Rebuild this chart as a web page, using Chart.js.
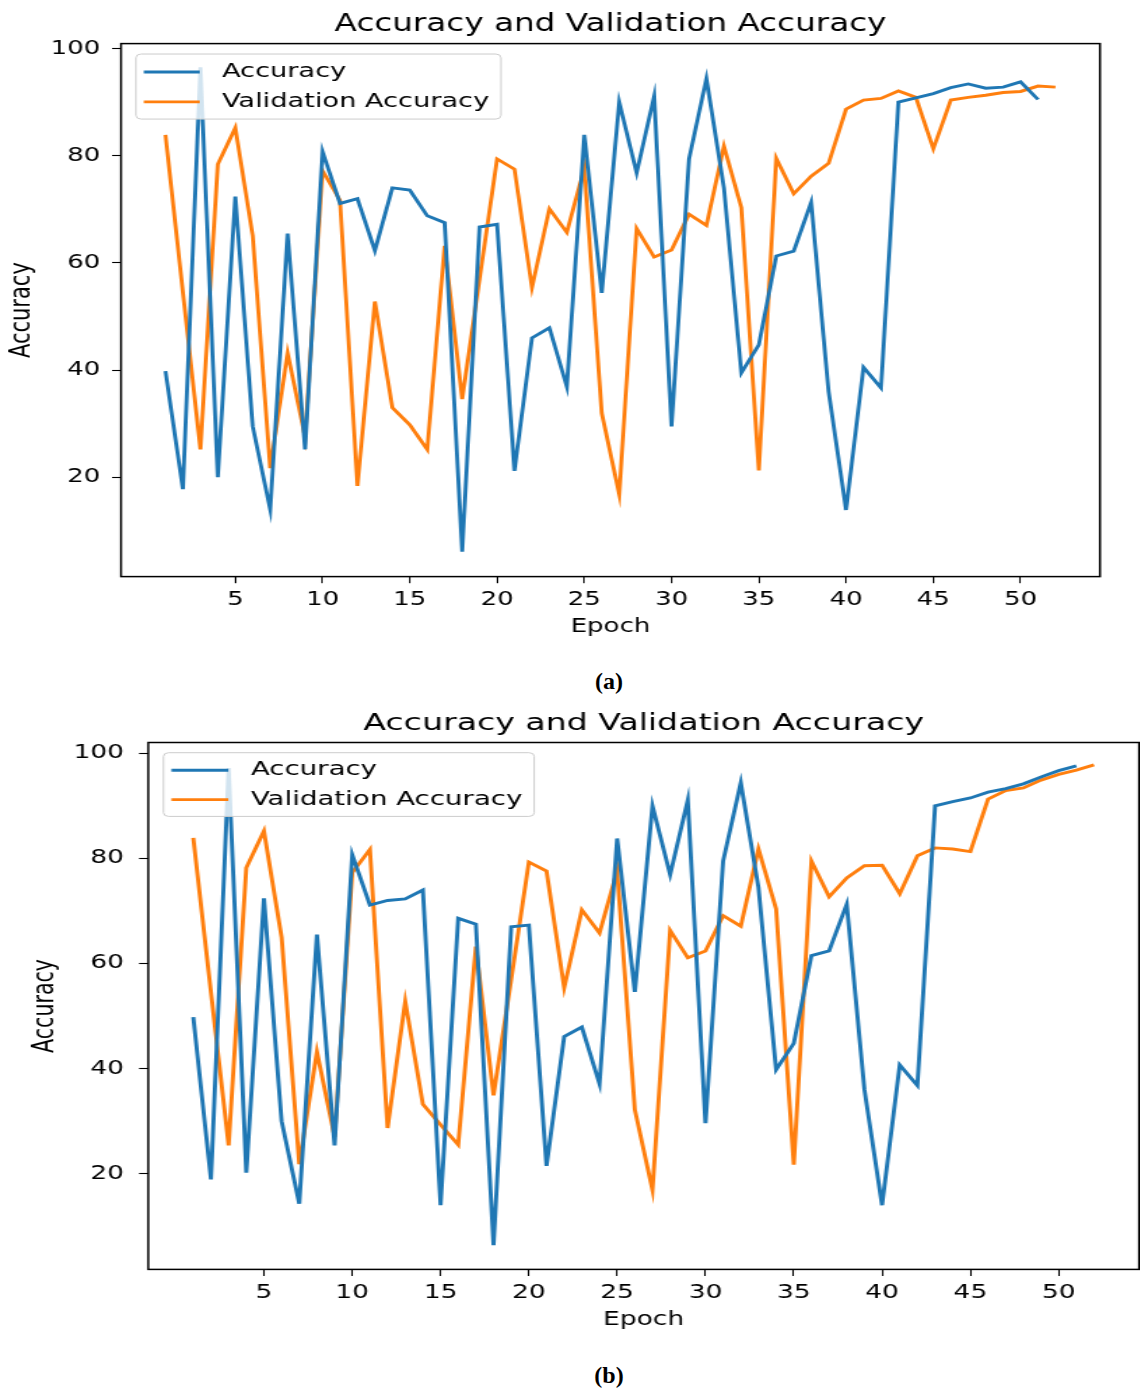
<!DOCTYPE html>
<html>
<head>
<meta charset="utf-8">
<title>Accuracy and Validation Accuracy</title>
<script src="https://cdn.jsdelivr.net/npm/chart.js@4.4.0/dist/chart.umd.min.js"></script>
<style>
    body { margin: 0; background: #fff; width: 1140px; height: 1390px; overflow: hidden; position: relative; }
    .stretch { position: absolute; left: 0; transform-origin: 0 0; }
    .stretch canvas { display: block; }
    .caption { position: absolute; left: 559px; width: 100px; text-align: center;
               font: bold 24px "Liberation Serif", "Times New Roman", serif; color: #000; }
</style>
</head>
<body>
<div class="stretch" style="top: 0; transform: scaleX(1.35);">
    <canvas id="chartA" width="845" height="650"></canvas>
</div>
<div class="caption" style="top: 668px;">(a)</div>
<div class="stretch" style="top: 698px; transform: scaleX(1.40);">
    <canvas id="chartB" width="814" height="645"></canvas>
</div>
<div class="caption" style="top: 1362px;">(b)</div>

<script>
// Data (epochs start at 1)
const xTicks = [5, 10, 15, 20, 25, 30, 35, 40, 45, 50];
const yTicks = [20, 40, 60, 80, 100];

const accuracyA = [39.8, 17.8, 96.5, 20.0, 72.4, 29.5, 14.0, 65.5, 25.2, 80.8,
    71.1, 72.0, 62.3, 74.0, 73.6, 68.8, 67.5, 6.1, 66.7, 67.2,
    21.2, 46.0, 47.9, 36.9, 83.9, 54.4, 90.0, 76.8, 91.1, 29.5,
    79.4, 94.4, 74.0, 39.5, 44.7, 61.3, 62.2, 71.3, 36.0, 13.9,
    40.5, 36.7, 90.0, 90.8, 91.6, 92.7, 93.4, 92.6, 92.8, 93.8,
    90.5];
const valAccuracyA = [83.9, 54.5, 25.2, 78.4, 85.2, 65.1, 21.7, 43.2, 27.5, 77.2,
    71.7, 18.4, 52.8, 33.0, 29.8, 25.2, 63.2, 34.6, 57.0, 79.4,
    77.5, 55.4, 70.1, 65.7, 77.7, 32.0, 16.8, 66.4, 61.1, 62.4,
    69.1, 67.0, 81.8, 70.3, 21.3, 79.5, 72.9, 76.2, 78.6, 88.7,
    90.4, 90.7, 92.1, 90.9, 81.3, 90.4, 90.9, 91.3, 91.8, 92.0,
    93.0, 92.8];

const accuracyB = [49.8, 18.9, 97.2, 20.2, 72.4, 30.0, 14.3, 65.5, 25.4, 80.7,
    71.1, 72.0, 72.3, 74.0, 14.0, 68.6, 67.5, 6.4, 67.0, 67.3,
    21.5, 46.1, 47.9, 37.1, 83.8, 54.6, 90.0, 76.9, 91.1, 29.6,
    79.5, 94.4, 74.5, 39.8, 44.8, 61.5, 62.4, 71.3, 36.0, 14.0,
    40.7, 36.8, 90.0, 90.8, 91.5, 92.6, 93.3, 94.2, 95.5, 96.7,
    97.6];
const valAccuracyB = [83.9, 54.5, 25.4, 78.2, 85.2, 65.0, 21.8, 43.2, 27.0, 77.3,
    81.7, 28.7, 52.8, 33.2, 29.3, 25.5, 63.2, 34.9, 57.0, 79.3,
    77.6, 55.4, 70.2, 65.8, 77.6, 32.2, 16.9, 66.3, 61.1, 62.4,
    69.1, 67.1, 81.8, 70.4, 21.7, 79.5, 72.7, 76.3, 78.6, 78.7,
    73.3, 80.5, 82.0, 81.8, 81.3, 91.3, 92.9, 93.4, 94.9, 96.0,
    96.8, 97.8];

const BLUE = '#1f77b4';
const ORANGE = '#ff7f0e';
const FONT = '"DejaVu Sans", "Liberation Sans", sans-serif';

Chart.defaults.font.family = FONT;
Chart.defaults.color = '#000';

document.addEventListener('DOMContentLoaded', () => {
    //Panel (a)
    makeChart('chartA', accuracyA, valAccuracyA, {
        area: { left: 89.6, right: 814.8, top: 43.6, bottom: 576.6 },
        yMin: 1.47, yMax: 100.93,
        tick: 19.3, titleSize: 24.2, yLabelSize: 21,
        titlePadTop: 10.5, yTitlePad: 4.1, yTickPad: 8.8, xTickPad: 5, xTitlePad: 11.4
    });
    //Panel (b)
    makeChart('chartB', accuracyB, valAccuracyB, {
        area: { left: 105.9, right: 813.6, top: 44.5, bottom: 571.4 },
        yMin: 1.79, yMax: 102.06,
        tick: 18.9, titleSize: 23.7, yLabelSize: 20.6,
        titlePadTop: 11.8, yTitlePad: 20.3, yTickPad: 10.7, xTickPad: 6, xTitlePad: 11.7
    });
});

// matplotlib-like box around the axes plus the in-axes legend
const axesBox = {
    id: 'axesBox',
    afterDatasetsDraw(chart, args, opts) {
        const { ctx, chartArea: a } = chart;
        const em = opts.fontSize;
        const labels = chart.data.datasets.map(d => d.label);
        const colors = chart.data.datasets.map(d => d.borderColor);
        ctx.save();
        ctx.font = (em * 1.045) + 'px ' + FONT;
        const textW = Math.max(...labels.map(l => ctx.measureText(l).width));
        const x0 = a.left + 0.575 * em;
        const y0 = a.top + 0.54 * em;
        const w = 3.3 * em + textW + 0.45 * em;
        const h = 3.37 * em;
        const r = 0.2 * em;

        ctx.beginPath();
        ctx.moveTo(x0 + r, y0);
        ctx.arcTo(x0 + w, y0, x0 + w, y0 + h, r);
        ctx.arcTo(x0 + w, y0 + h, x0, y0 + h, r);
        ctx.arcTo(x0, y0 + h, x0, y0, r);
        ctx.arcTo(x0, y0, x0 + w, y0, r);
        ctx.closePath();
        ctx.fillStyle = 'rgba(255,255,255,0.8)';
        ctx.fill();
        ctx.strokeStyle = '#cccccc';
        ctx.lineWidth = 1;
        ctx.stroke();

        labels.forEach((label, i) => {
            const cy = y0 + (0.93 + i * 1.55) * em;
            ctx.beginPath();
            ctx.moveTo(x0 + 0.3 * em, cy);
            ctx.lineTo(x0 + 2.45 * em, cy);
            ctx.strokeStyle = colors[i];
            ctx.lineWidth = 2.9;
            ctx.stroke();
            ctx.fillStyle = '#000';
            ctx.textBaseline = 'middle';
            ctx.textAlign = 'left';
            ctx.fillText(label, x0 + 3.3 * em, cy);
        });
        ctx.restore();
    },
    afterDraw(chart) {
        const { ctx, chartArea: a } = chart;
        ctx.save();
        ctx.strokeStyle = '#000';
        ctx.lineWidth = 1.5;
        ctx.strokeRect(a.left, a.top, a.right - a.left, a.bottom - a.top);
        ctx.restore();
    }
};

function toPoints(values) {
    return values.map((v, i) => ({ x: i + 1, y: v }));
}

function makeChart(canvasId, acc, val, cfg) {
    const canvas = document.getElementById(canvasId);
    const ctx = canvas.getContext('2d');
    const titleLine = cfg.titleSize * 1.2;
    const tickGrid = {
        drawOnChartArea: false,
        drawTicks: true,
        tickLength: 6.6,
        tickWidth: 1.1,
        tickColor: '#000',
        color: '#000'
    };

    return new Chart(ctx, {
        type: 'line',
        data: {
            datasets: [{
                label: 'Accuracy',
                data: toPoints(acc),
                borderColor: BLUE,
                backgroundColor: BLUE,
                borderWidth: 2.9,
                pointRadius: 0,
                tension: 0,
                fill: false
            }, {
                label: 'Validation Accuracy',
                data: toPoints(val),
                borderColor: ORANGE,
                backgroundColor: ORANGE,
                borderWidth: 2.9,
                pointRadius: 0,
                tension: 0,
                fill: false
            }]
        },
        options: {
            responsive: false,
            animation: false,
            events: [],
            layout: {
                padding: { left: 0, top: 0, bottom: 0, right: canvas.width - cfg.area.right }
            },
            plugins: {
                legend: { display: false },
                tooltip: { enabled: false },
                title: {
                    display: true,
                    text: 'Accuracy and Validation Accuracy',
                    fullSize: false,
                    color: '#000',
                    font: { size: cfg.titleSize, weight: 'normal', lineHeight: 1.2 },
                    padding: {
                        top: cfg.titlePadTop,
                        bottom: cfg.area.top - cfg.titlePadTop - titleLine
                    }
                },
                axesBox: { fontSize: cfg.tick }
            },
            scales: {
                x: {
                    type: 'linear',
                    min: -1.55,
                    max: 54.55,
                    grid: tickGrid,
                    border: { display: false },
                    ticks: {
                        font: { size: cfg.tick },
                        color: '#000',
                        padding: cfg.xTickPad,
                        maxRotation: 0,
                        autoSkip: false
                    },
                    title: {
                        display: true,
                        text: 'Epoch',
                        color: '#000',
                        font: { size: cfg.tick, lineHeight: 1.2 },
                        padding: { top: 0, bottom: cfg.xTitlePad }
                    },
                    afterBuildTicks: scale => {
                        scale.ticks = xTicks.map(v => ({ value: v }));
                    },
                    afterFit: scale => {
                        scale.height = canvas.height - cfg.area.bottom;
                    }
                },
                y: {
                    type: 'linear',
                    min: cfg.yMin,
                    max: cfg.yMax,
                    grid: tickGrid,
                    border: { display: false },
                    ticks: {
                        font: { size: cfg.tick },
                        color: '#000',
                        padding: cfg.yTickPad
                    },
                    title: {
                        display: true,
                        text: 'Accuracy',
                        color: '#000',
                        font: { size: cfg.yLabelSize, lineHeight: 1.2 },
                        padding: { top: cfg.yTitlePad, bottom: 0 }
                    },
                    afterBuildTicks: scale => {
                        scale.ticks = yTicks.map(v => ({ value: v }));
                    },
                    afterFit: scale => {
                        scale.width = cfg.area.left;
                    }
                }
            }
        },
        plugins: [axesBox]
    });
}
</script>
</body>
</html>
